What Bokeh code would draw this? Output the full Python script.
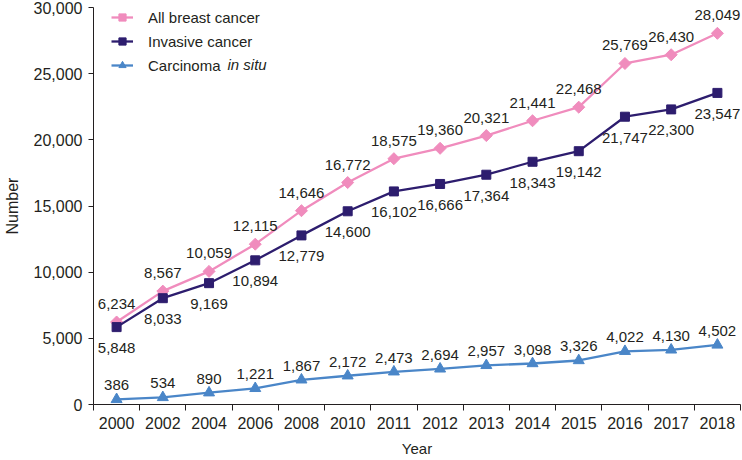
from bokeh.plotting import figure
from bokeh.models import (ColumnDataSource, FixedTicker, Range1d, Legend, LegendItem,
                          Label, NumeralTickFormatter)
from bokeh.embed import file_html
from bokeh.resources import INLINE
from bokeh.core.properties import value
import math

years = ["2000", "2002", "2004", "2006", "2008", "2010", "2011", "2012", "2013",
         "2014", "2015", "2016", "2017", "2018"]
all_cases = [6234, 8567, 10059, 12115, 14646, 16772, 18575, 19360, 20321, 21441,
             22468, 25769, 26430, 28049]
invasive = [5848, 8033, 9169, 10894, 12779, 14600, 16102, 16666, 17364, 18343,
            19142, 21747, 22300, 23547]
in_situ = [386, 534, 890, 1221, 1867, 2172, 2473, 2694, 2957, 3098, 3326, 4022,
           4130, 4502]
series_names = ["All breast cancer", "Invasive cancer", "Carcinoma"]
series_italic_suffix = "in situ"
y_ticks = [0, 5000, 10000, 15000, 20000, 25000, 30000]

FONT = "Liberation Sans"
TXT = "#231f20"
PINK = "#f08cbd"
PURPLE = "#2d1d6e"
BLUE = "#4a86c8"

W, H = 742, 460
TOP, BOTTOM, LEFT, RIGHT = 7, 56, 92, 2
FRAME_H_EST = 396

xs = list(range(len(years)))

p = figure(width=W, height=H, output_backend="svg", toolbar_location=None,
           x_range=Range1d(-0.5, len(years) - 0.5), y_range=Range1d(0, 30000),
           min_border_top=TOP, min_border_bottom=BOTTOM, min_border_left=LEFT,
           min_border_right=RIGHT)
p.outline_line_color = None
p.xgrid.visible = False
p.ygrid.visible = False
p.background_fill_color = "white"
p.border_fill_color = "white"

# x axis
xa = p.xaxis[0]
xa.ticker = FixedTicker(ticks=xs, minor_ticks=[i - 0.5 for i in range(len(years) + 1)])
xa.major_label_overrides = {i: y for i, y in enumerate(years)}
xa.major_tick_line_color = None
xa.minor_tick_line_color = TXT
xa.minor_tick_in = 0
xa.minor_tick_out = 6
xa.axis_line_color = TXT
xa.major_label_text_font = FONT
xa.major_label_text_font_size = "16px"
xa.major_label_text_color = TXT
xa.major_label_standoff = 6
xa.axis_label = "Year"
xa.axis_label_text_font = FONT
xa.axis_label_text_font_size = "15px"
xa.axis_label_text_font_style = "normal"
xa.axis_label_text_color = TXT
xa.axis_label_standoff = 8

# y axis
ya = p.yaxis[0]
ya.ticker = FixedTicker(ticks=y_ticks, minor_ticks=[])
ya.formatter = NumeralTickFormatter(format="0,0")
ya.major_tick_in = 0
ya.major_tick_out = 5
ya.major_tick_line_color = TXT
ya.minor_tick_line_color = None
ya.axis_line_color = TXT
ya.major_label_text_font = FONT
ya.major_label_text_font_size = "16px"
ya.major_label_text_color = TXT
ya.major_label_standoff = 6
ya.axis_label = "Number"
ya.axis_label_text_font = FONT
ya.axis_label_text_font_size = "16px"
ya.axis_label_text_font_style = "normal"
ya.axis_label_text_color = TXT
ya.axis_label_standoff = 10

def fmt(v):
    return f"{v:,}"

series = [
    (all_cases, PINK, "square", 8.5, math.pi / 4, -18),
    (invasive, PURPLE, "square", 9, 0, 21),
    (in_situ, BLUE, "triangle", 11, 0, -14),
]

items = []
for (vals, color, marker, size, ang, yoff), name in zip(series, series_names):
    src = ColumnDataSource(dict(x=xs, y=vals, label=[fmt(v) for v in vals]))
    ln = p.line("x", "y", source=src, line_color=color, line_width=2.3)
    sc = p.scatter("x", "y", source=src, marker=marker, size=size, angle=ang,
                   fill_color=color, line_color=color)
    p.text("x", "y", text="label", source=src, text_align="center",
           text_baseline="middle", y_offset=yoff, text_font=value(FONT),
           text_font_size="15px", text_color=TXT)
    items.append(LegendItem(label=name, renderers=[ln, sc]))

legend = Legend(items=items, location=(18, FRAME_H_EST - 66), margin=0, padding=0,
                spacing=6, glyph_width=22, glyph_height=18, label_height=18,
                label_standoff=15, background_fill_alpha=0, border_line_color=None,
                label_text_font=FONT, label_text_font_size="15px",
                label_text_color=TXT)
p.add_layout(legend)

p.add_layout(Label(x=134, y=FRAME_H_EST - 56, x_units="screen", y_units="screen",
                   text=series_italic_suffix, text_font=FONT, text_font_size="15px",
                   text_font_style="italic", text_color=TXT, text_baseline="middle"))

open("out.html", "w").write(file_html(p, INLINE))
